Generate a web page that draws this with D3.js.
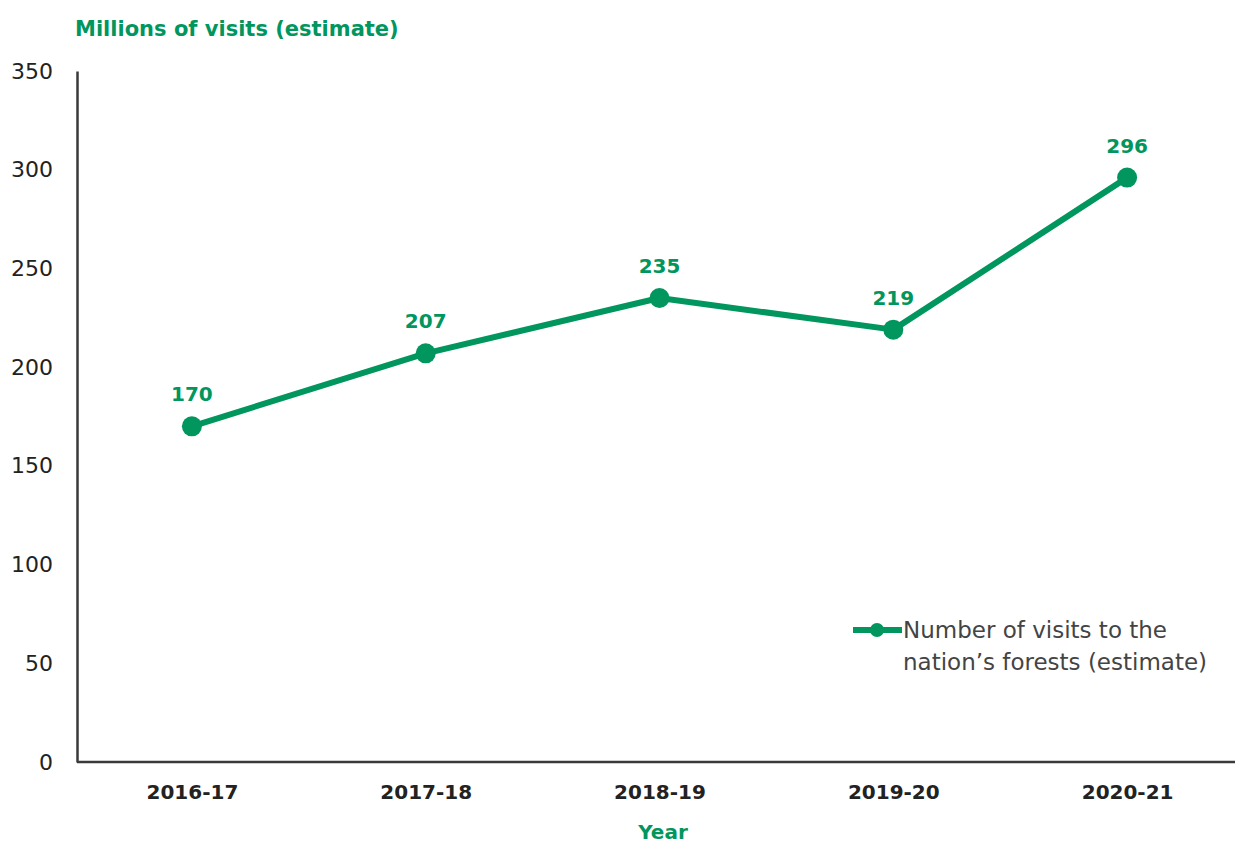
<!DOCTYPE html>
<html>
<head>
<meta charset="utf-8">
<script src="https://cdn.jsdelivr.net/npm/d3@7"></script>
<style>
  body { margin: 0; background: #fff; }
  text { font-family: "DejaVu Sans", sans-serif; }
</style>
</head>
<body>
<svg id="chart" width="1235" height="843"></svg>
<script>
var years = ["2016-17", "2017-18", "2018-19", "2019-20", "2020-21"];
var visits = [170, 207, 235, 219, 296];
var yTicks = [0, 50, 100, 150, 200, 250, 300, 350];

var green = "#00965e",
    axisColor = "#3a3a3a";

var svg = d3.select("#chart");

var x = d3.scalePoint()
    .domain(years)
    .range([75, 1244])
    .padding(0.5);

var y = d3.scaleLinear()
    .domain([0, 350])
    .range([762, 71]);

var data = years.map(function(d, i) { return {year: d, value: visits[i]}; });

// y axis
var yAxis = svg.append("g")
    .attr("transform", "translate(77,0)")
    .call(d3.axisLeft(y).tickValues(yTicks).tickSize(0).tickPadding(24));
yAxis.select(".domain").attr("stroke", axisColor).attr("stroke-width", 2.5);
yAxis.selectAll("text")
    .attr("font-size", 22)
    .attr("fill", "#222")
    .style("font-family", "'DejaVu Sans', sans-serif");

// x axis
var xAxis = svg.append("g")
    .attr("transform", "translate(0,762)")
    .call(d3.axisBottom(x).tickSize(0).tickPadding(23));
xAxis.select(".domain").attr("d", "M77,0H1235").attr("stroke", axisColor).attr("stroke-width", 2.5);
xAxis.selectAll("text")
    .attr("font-size", 20)
    .attr("font-weight", "bold")
    .attr("fill", "#222")
    .style("font-family", "'DejaVu Sans', sans-serif");

// titles
svg.append("text")
    .attr("x", 75).attr("y", 36)
    .attr("fill", green)
    .attr("font-size", 21)
    .attr("font-weight", "bold")
    .text("Millions of visits (estimate)");

svg.append("text")
    .attr("x", 663).attr("y", 839)
    .attr("text-anchor", "middle")
    .attr("fill", green)
    .attr("font-size", 20)
    .attr("font-weight", "bold")
    .text("Year");

// line
var line = d3.line()
    .x(function(d) { return x(d.year); })
    .y(function(d) { return y(d.value); });

svg.append("path")
    .datum(data)
    .attr("fill", "none")
    .attr("stroke", green)
    .attr("stroke-width", 6)
    .attr("stroke-linejoin", "round")
    .attr("d", line);

svg.append("g").selectAll("circle")
    .data(data)
    .enter().append("circle")
    .attr("cx", function(d) { return x(d.year); })
    .attr("cy", function(d) { return y(d.value); })
    .attr("r", 10)
    .attr("fill", green);

svg.append("g").selectAll("text")
    .data(data)
    .enter().append("text")
    .attr("x", function(d) { return x(d.year); })
    .attr("y", function(d) { return y(d.value) - 25; })
    .attr("text-anchor", "middle")
    .attr("fill", green)
    .attr("font-size", 20)
    .attr("font-weight", "bold")
    .text(function(d) { return d.value; });

// legend
var legend = svg.append("g").attr("transform", "translate(853,630)");
legend.append("line")
    .attr("x1", 0).attr("x2", 49)
    .attr("stroke", green).attr("stroke-width", 6);
legend.append("circle")
    .attr("cx", 24).attr("r", 7).attr("fill", green);
legend.append("text")
    .attr("x", 50).attr("y", 8)
    .attr("font-size", 23)
    .attr("fill", "#444")
    .text("Number of visits to the");
legend.append("text")
    .attr("x", 50).attr("y", 40)
    .attr("font-size", 23)
    .attr("fill", "#444")
    .text("nation\u2019s forests (estimate)");
</script>
</body>
</html>
